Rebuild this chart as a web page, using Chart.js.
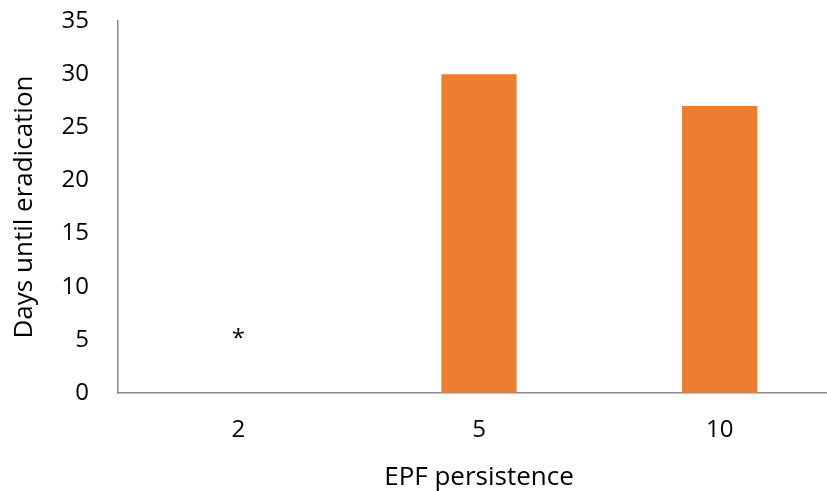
<!DOCTYPE html>
<html>
<head>
<meta charset="utf-8">
<script src="https://cdn.jsdelivr.net/npm/chart.js@4.4.0/dist/chart.umd.min.js"></script>
<style>
  html, body { margin: 0; padding: 0; background: #fff; overflow: hidden; }
  #wrap { width: 827px; height: 491px; overflow: hidden; }
</style>
</head>
<body>
<div id="wrap"><canvas id="chart" width="840" height="493"></canvas></div>
<script>
// EPF persistence vs days until eradication
const categories = ['2', '5', '10'];
const daysValues = [0, 30, 27];
const yTicks = [0, 5, 10, 15, 20, 25, 30, 35];
// "*" marker shown above the empty category
const noteLabels = ['*', '', ''];
const noteValues = [5.6, null, null];

const axisColor = '#898989';
const fontFamily = '"Open Sans", Lato, sans-serif';
const textFont = { family: fontFamily, size: 24 };
const titleFont = { family: fontFamily, size: 26 };

const notePlugin = {
    id: 'notes',
    afterDatasetsDraw(chart) {
        const ctx = chart.ctx;
        const xScale = chart.scales.x;
        const yScale = chart.scales.y;
        ctx.save();
        ctx.fillStyle = '#000';
        ctx.font = '24px ' + fontFamily;
        ctx.textAlign = 'center';
        ctx.textBaseline = 'alphabetic';
        noteLabels.forEach((txt, i) => {
            if (!txt || noteValues[i] == null) return;
            const m = ctx.measureText(txt);
            // centre the glyph itself on the value
            const shift = (m.actualBoundingBoxAscent - m.actualBoundingBoxDescent) / 2;
            ctx.fillText(txt, xScale.getPixelForValue(i), yScale.getPixelForValue(noteValues[i]) + shift);
        });
        ctx.restore();
    }
};

new Chart(document.getElementById('chart').getContext('2d'), {
    type: 'bar',
    data: {
        labels: categories,
        datasets: [{
            label: 'Days until eradication',
            data: daysValues,
            backgroundColor: '#ED7D31',
            borderWidth: 0,
            barPercentage: 0.3125,
            categoryPercentage: 1
        }]
    },
    options: {
        responsive: false,
        animation: false,
        layout: { padding: { top: 21, right: 0, bottom: 0, left: 0 } },
        plugins: {
            legend: { display: false },
            tooltip: { enabled: false }
        },
        scales: {
            x: {
                grid: { display: false, drawTicks: false },
                border: { display: true, color: axisColor, width: 1.5 },
                ticks: { color: '#000', font: textFont, padding: 23, maxRotation: 0 },
                title: {
                    display: true,
                    text: 'EPF persistence',
                    color: '#000',
                    font: titleFont,
                    padding: { top: 0, bottom: 0 }
                },
                afterFit(scale) {
                    scale.height = 100;
                    scale.paddingLeft = 0;
                    scale.paddingRight = 0;
                }
            },
            y: {
                min: 0,
                max: 35,
                grid: { display: false, drawTicks: false },
                border: { display: true, color: axisColor, width: 1.5 },
                afterBuildTicks(scale) {
                    scale.ticks = yTicks.map(v => ({ value: v }));
                },
                ticks: { color: '#000', font: textFont, padding: 29 },
                title: {
                    display: true,
                    text: 'Days until eradication',
                    color: '#000',
                    font: titleFont,
                    padding: { top: 9, bottom: 0 }
                },
                afterFit(scale) {
                    scale.width = 118;
                    scale.paddingTop = 0;
                    scale.paddingBottom = 0;
                }
            }
        }
    },
    plugins: [notePlugin]
});
</script>
</body>
</html>
